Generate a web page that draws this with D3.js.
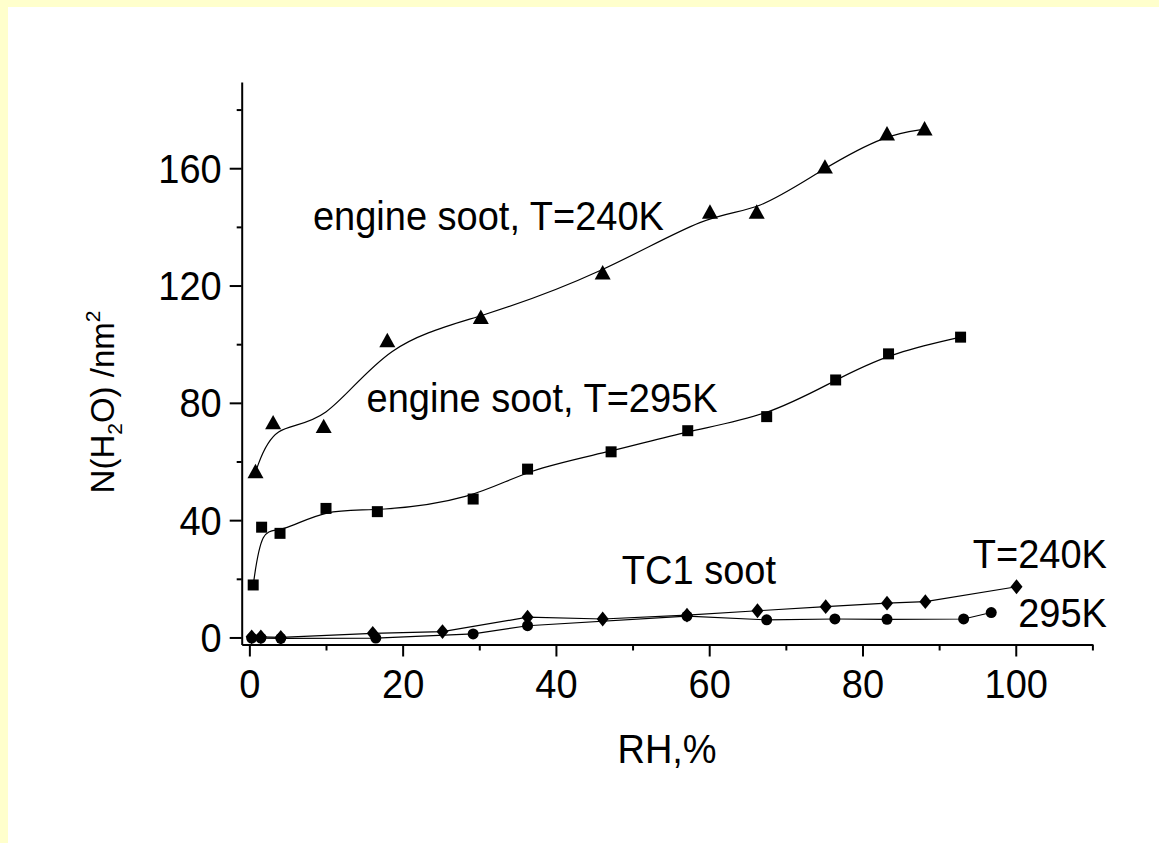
<!DOCTYPE html>
<html><head><meta charset="utf-8">
<script src="https://cdn.jsdelivr.net/npm/d3@7"></script>
<style>
body{margin:0;background:#ffffcc;overflow:hidden;}
svg{display:block;}
text{font-family:"Liberation Sans",Arial,sans-serif;fill:#000;}
</style>
</head><body>
<svg id="c" width="1159" height="843"></svg>
<script>
// ---- data ----
const xMajorTicks = [0, 20, 40, 60, 80, 100];
const xMinorTicks = [10, 30, 50, 70, 90, 110];
const yMajorTicks = [0, 40, 80, 120, 160];
const yMinorTicks = [20, 60, 100, 140, 180];

const eng240RH = [0.8, 3.1, 9.7, 18.0, 30.2, 46.1, 60.1, 66.2, 75.1, 83.2, 88.1];
const eng240N  = [56.4, 73.1, 71.8, 101.1, 109.0, 124.2, 144.9, 144.9, 160.3, 171.6, 173.3];

const eng295RH = [0.5, 1.6, 4.0, 10.0, 16.7, 29.2, 36.3, 47.2, 57.2, 67.5, 76.5, 83.4, 92.8];
const eng295N  = [17.9, 37.6, 35.5, 44.0, 42.9, 47.2, 57.4, 63.3, 70.5, 75.3, 87.8, 96.7, 102.4];

const tc240RH = [0.3, 1.5, 4.1, 16.1, 25.2, 36.3, 46.1, 57.1, 66.3, 75.2, 83.2, 88.2, 100.1];
const tc240N  = [0.2, 0.2, 0.0, 1.4, 2.0, 6.9, 6.3, 7.6, 9.1, 10.5, 11.7, 12.2, 17.3];

const tc295RH = [0.3, 1.5, 4.1, 16.5, 29.2, 36.3, 57.1, 67.5, 76.4, 83.2, 93.2, 96.8];
const tc295N  = [-0.2, -0.2, -0.3, -0.2, 1.2, 4.0, 7.3, 6.0, 6.3, 6.2, 6.3, 8.5];

const xTitle = "RH,%";
const labels = [
  {text: "engine soot, T=240K", rh: 8.3, n: 139, anchor: "start"},
  {text: "engine soot, T=295K", rh: 15.3, n: 77, anchor: "start"},
  {text: "TC1 soot", rh: 48.6, n: 18.3, anchor: "start"},
  {text: "T=240K", rh: 111.9, n: 23.7, anchor: "end"},
  {text: "295K", rh: 111.9, n: 3.7, anchor: "end"}
];

// ---- layout ----
const svg = d3.select("#c");
svg.append("rect").attr("x", 8).attr("y", 7).attr("width", 1159 - 8).attr("height", 843 - 7).attr("fill", "#fff");

const x = d3.scaleLinear().domain([-1, 110]).range([241.7, 1092.4]);
const y = d3.scaleLinear().domain([-2.4, 189.4]).range([644.5, 82]);
const FS = 38, SY = 1.06;

// axes
const gx = svg.append("g").attr("transform", `translate(0,${y(-2.4)})`);
gx.call(d3.axisBottom(x).tickValues(xMajorTicks).tickSize(12).tickSizeOuter(0).tickFormat(d3.format("d")));
gx.append("g").call(d3.axisBottom(x).tickValues(xMinorTicks).tickSize(6).tickSizeOuter(0).tickFormat(""))
  .select(".domain").remove();
gx.selectAll("text").attr("y", 0).attr("dy", null)
  .attr("transform", `translate(0,53) scale(1,${SY})`)
  .style("font-size", FS + "px").style("font-family", '"Liberation Sans",Arial,sans-serif').attr("fill", "#000");

const gy = svg.append("g").attr("transform", `translate(${x(-1)},0)`);
gy.call(d3.axisLeft(y).tickValues(yMajorTicks).tickSize(12).tickSizeOuter(0).tickFormat(d3.format("d")));
gy.append("g").call(d3.axisLeft(y).tickValues(yMinorTicks).tickSize(5).tickSizeOuter(0).tickFormat(""))
  .select(".domain").remove();
gy.selectAll("text").attr("x", 0).attr("dy", null).attr("y", 0)
  .attr("dominant-baseline", "central")
  .attr("transform", `translate(-20,0) scale(1,${SY})`)
  .style("font-size", FS + "px").style("font-family", '"Liberation Sans",Arial,sans-serif').attr("fill", "#000");

svg.selectAll(".domain, .tick line").attr("stroke", "#000").attr("stroke-width", 2);

// axis titles
svg.append("text").attr("transform", `translate(${(x.range()[0] + x.range()[1]) / 2},763) scale(1,${SY})`)
  .attr("text-anchor", "middle").style("font-size", "38px").text(xTitle);

const yt = svg.append("text").attr("transform", "translate(114,402) rotate(-90)")
  .attr("text-anchor", "middle").style("font-size", "33px");
yt.append("tspan").text("N(H");
yt.append("tspan").attr("dy", 8).style("font-size", "21px").text("2");
yt.append("tspan").attr("dy", -8).text("O) /nm");
yt.append("tspan").attr("dy", -14).style("font-size", "21px").text("2");

// series
function series(rh, n) { return rh.map((v, i) => [v, n[i]]); }
const lineSmooth = d3.line().x(d => x(d[0])).y(d => y(d[1])).curve(d3.curveBasis);
const lineStraight = d3.line().x(d => x(d[0])).y(d => y(d[1]));

const tri = {draw(ctx, s) { const h = s * 0.9; ctx.moveTo(0, -h / 2 - 1); ctx.lineTo(s / 2, h / 2 - 1); ctx.lineTo(-s / 2, h / 2 - 1); ctx.closePath(); }};
const sq = {draw(ctx, s) { ctx.rect(-s / 2, -s / 2, s, s); }};
const dia = {draw(ctx, s) { ctx.moveTo(0, -s * 0.62); ctx.lineTo(s * 0.5, 0); ctx.lineTo(0, s * 0.62); ctx.lineTo(-s * 0.5, 0); ctx.closePath(); }};
const circ = {draw(ctx, s) { ctx.arc(0, 0, s / 2, 0, 2 * Math.PI); }};

const sets = [
  {data: series(eng240RH, eng240N), line: lineSmooth, sym: tri, size: 16},
  {data: series(eng295RH, eng295N), line: lineSmooth, sym: sq, size: 11},
  {data: series(tc295RH, tc295N), line: lineStraight, sym: circ, size: 11},
  {data: series(tc240RH, tc240N), line: lineStraight, sym: dia, size: 12}
];
sets.forEach(s => {
  svg.append("path").attr("d", s.line(s.data)).attr("fill", "none").attr("stroke", "#000").attr("stroke-width", 1.2);
});
sets.forEach(s => {
  svg.append("g").selectAll("path").data(s.data).join("path")
    .attr("transform", d => `translate(${x(d[0])},${y(d[1])})`)
    .attr("d", d3.symbol().type(s.sym).size(s.size)).attr("fill", "#000");
});

// annotations
labels.forEach(l => {
  svg.append("text").attr("transform", `translate(${x(l.rh)},${y(l.n)}) scale(1,${SY})`)
    .attr("text-anchor", l.anchor).style("font-size", FS + "px").text(l.text);
});
</script>
</body></html>
